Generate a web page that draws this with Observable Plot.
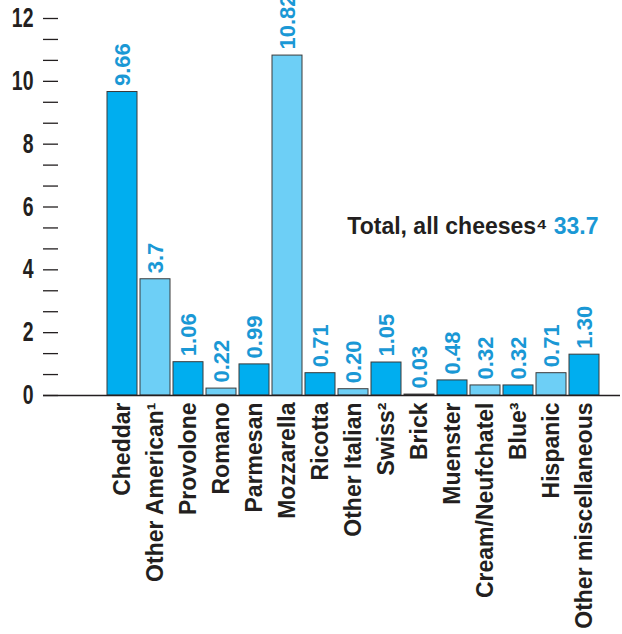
<!DOCTYPE html>
<html><head><meta charset="utf-8">
<script src="https://cdn.jsdelivr.net/npm/d3@7"></script>
<script src="https://cdn.jsdelivr.net/npm/@observablehq/plot@0.6"></script>
<style>body{margin:0;background:#fff}</style>
</head><body><div id="chart"></div>
<script>
const cheeses = ["Cheddar","Other American¹","Provolone","Romano","Parmesan","Mozzarella","Ricotta","Other Italian","Swiss²","Brick","Muenster","Cream/Neufchatel","Blue³","Hispanic","Other miscellaneous"];
const values = [9.66,3.7,1.06,0.22,0.99,10.82,0.71,0.20,1.05,0.03,0.48,0.32,0.32,0.71,1.30];
const valueLabels = ["9.66","3.7","1.06","0.22","0.99","10.82","0.71","0.20","1.05","0.03","0.48","0.32","0.32","0.71","1.30"];
const shades = ["dark","light","dark","light","dark","light","dark","light","dark","light","dark","light","dark","light","dark"];
const yTickLabels = [0,2,4,6,8,10,12];
const yMinorTicks = [0,0.6667,1.3333,2,2.6667,3.3333,4,4.6667,5.3333,6,6.6667,7.3333,8,8.6667,9.3333,10,10.6667,11.3333,12];
const totalLabel = ["Total, all cheeses⁴"];
const totalValue = ["33.7"];

const data = cheeses.map((c,i)=>({cheese:c, value:values[i], label:valueLabels[i], shade:shades[i]}));
const blue = "#1a98d5";
const font = "'Liberation Sans', Arial, Helvetica, sans-serif";

const plot = Plot.plot({
  width: 622, height: 634,
  marginLeft: 43, marginRight: 2, marginTop: 18, marginBottom: 239,
  style: {fontFamily: font, background: "#fff", color: "#231f20"},
  x: {domain: cheeses, range: [105.5, 600.5], paddingInner: 3/33, paddingOuter: 1.5/33, label: null, axis: null},
  y: {domain: [0, 12], label: null, axis: null},
  color: {domain: ["dark","light"], range: ["#00aeef","#6dcff6"]},
  marks: [
    Plot.barY(data, {x:"cheese", y:"value", fill:"shade", stroke:"#3a3a3a", strokeWidth:1}),
    Plot.text(data, {x:"cheese", y:"value", text:"label", rotate:-90, textAnchor:"start", dy:-6, fill:blue, fontSize:22, fontWeight:"bold"}),
    Plot.axisY({ticks: yMinorTicks, tickSize:15, dx:15, tickFormat:()=>"", stroke:"#231f20", strokeWidth:1.3, label:null}),
    Plot.axisY({ticks: yTickLabels, tickSize:0, tickPadding:10, fontSize:27, fontWeight:"bold", fill:"#231f20", label:null}),
    Plot.ruleY([0], {stroke:"#231f20", strokeWidth:1.5}),
    Plot.axisY({ticks: [], line:true, stroke:"#231f20", strokeWidth:1.5, label:null}),
    Plot.axisX({tickSize:0, tickPadding:7, tickRotate:-90, fontSize:23, fontWeight:"bold", fill:"#231f20", label:null}),
    Plot.text(totalLabel, {frameAnchor:"top-right", dx:-73, dy:199, textAnchor:"end", fontSize:23, fontWeight:"bold", fill:"#231f20"}),
    Plot.text(totalValue, {frameAnchor:"top-right", dx:-22, dy:199, textAnchor:"end", fontSize:23, fontWeight:"bold", fill:blue})
  ]
});
document.getElementById("chart").appendChild(plot);
// condense the y tick labels horizontally, as in the reference
const labelSet = new Set(yTickLabels.map(String));
d3.select(plot).selectAll("text").each(function() {
  if (!labelSet.has(this.textContent)) return;
  if (this.getAttribute("transform") && /rotate/.test(this.getAttribute("transform"))) return;
  const g = this.parentNode;
  if (!g || !/y-axis/.test(g.getAttribute("aria-label") || "")) return;
  const bb = this.getBBox();
  const ctm = this.getCTM();
  const ax = bb.x + bb.width; // right edge in local coordinates (text-anchor end)
  const t = this.getAttribute("transform") || "";
  this.setAttribute("transform", `${t} translate(${ax},0) scale(0.72,1) translate(${-ax},0)`);
});
</script>
</body></html>
